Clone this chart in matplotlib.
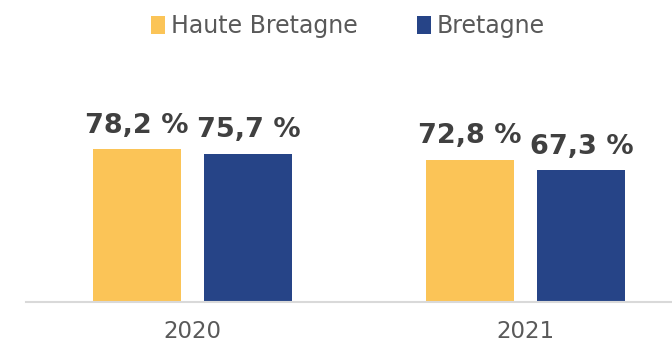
import numpy as np
import matplotlib.pyplot as plt

years = ['2020', '2021']
haute_bretagne = [78.2, 72.8]
bretagne = [75.7, 67.3]
series_names = ['Haute Bretagne', 'Bretagne']

col_hb = '#FBC457'
col_br = '#264487'

fig = plt.figure(figsize=(6.72, 3.44), dpi=100)
ax = fig.add_axes([26/672, 42/344, 646/672, 195.7/344])

x = np.arange(len(years))
w = 0.264
off = 0.168
b1 = ax.bar(x - off, haute_bretagne, w, color=col_hb, label=series_names[0])
b2 = ax.bar(x + off, bretagne, w, color=col_br, label=series_names[1])

# étiquettes de valeur au-dessus des barres
for bars, vals in ((b1, haute_bretagne), (b2, bretagne)):
    for rect, v in zip(bars, vals):
        ax.annotate(('%.1f %%' % v).replace('.', ','),
                    (rect.get_x() + rect.get_width() / 2, v),
                    xytext=(0, 7.5), textcoords='offset points',
                    ha='center', va='bottom', fontsize=19.5,
                    fontweight='bold', color='#404040')

ax.set_xlim(-0.5, -0.5 + 646/333)
ax.set_ylim(0, 100)
ax.set_xticks(x)
ax.set_xticklabels(years, fontsize=16.5, color='#595959')
ax.tick_params(axis='x', length=0, pad=13)
ax.set_yticks([])
for s in ['top', 'right', 'left']:
    ax.spines[s].set_visible(False)
ax.spines['bottom'].set_color('#d9d9d9')
ax.spines['bottom'].set_linewidth(1.5)

fig.legend(handles=[b1, b2], labels=series_names, loc='upper center',
           bbox_to_anchor=(348/672, 1.0), ncol=2, frameon=False,
           fontsize=17, labelcolor='#595959', handlelength=0.58,
           handleheight=0.75, handletextpad=0.25, columnspacing=2.5,
           borderaxespad=0.2)

fig.savefig('out.png', dpi=100)
